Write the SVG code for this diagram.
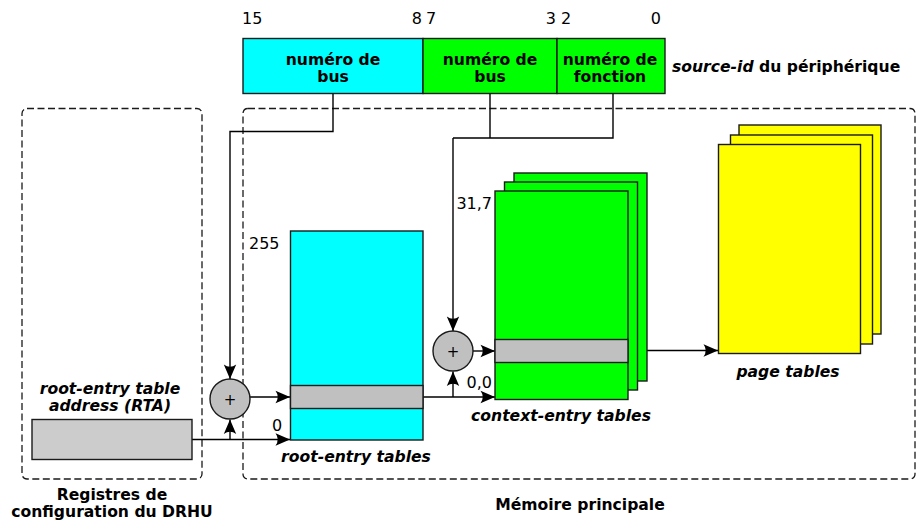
<svg xmlns="http://www.w3.org/2000/svg" width="916" height="520" viewBox="0 0 916 520">
  <style>
    text { font-family: "DejaVu Sans", "Liberation Sans", sans-serif; fill: #000; }
    .num { font-size: 16px; }
    .lbl { font-size: 15.6px; font-weight: bold; }
    .it { font-style: italic; }
    .mid { text-anchor: middle; }
    .end { text-anchor: end; }
    .box { stroke: #1a1a1a; stroke-width: 1.4; }
    .dash { fill: none; stroke: #1a1a1a; stroke-width: 1.3; stroke-dasharray: 7 3.5; }
    .wire { fill: none; stroke: #000; stroke-width: 1.4; }
    .arrow { marker-end: url(#head); }
    .cyan { fill: #00ffff; }
    .green { fill: #00ff00; }
    .yellow { fill: #ffff00; }
    .grey { fill: #c0c0c0; }
    .light { fill: #cccccc; }
    .plus { font-size: 15px; text-anchor: middle; }
  </style>
  <defs>
    <marker id="head" markerUnits="userSpaceOnUse" markerWidth="18" markerHeight="14" refX="15" refY="7" orient="auto" overflow="visible">
      <path d="M15,7 L0.5,0.8 Q5,7 0.5,13.2 Z" fill="#000"/>
    </marker>
  </defs>

  <!-- dashed enclosures -->
  <g id="drhu-registers">
    <rect class="dash" x="22" y="108.5" width="180" height="370.5" rx="5"/>
    <text class="lbl mid" x="112" y="500">Registres de</text>
    <text class="lbl mid" x="112" y="516.5">configuration du DRHU</text>
  </g>
  <g id="main-memory">
    <rect class="dash" x="243" y="108.5" width="672" height="370.5" rx="5"/>
    <text class="lbl mid" x="580" y="510">Mémoire principale</text>
  </g>

  <!-- source-id bit fields -->
  <g id="source-id">
    <rect class="box cyan" x="243" y="38.5" width="180" height="55"/>
    <rect class="box green" x="423" y="38.5" width="134" height="55"/>
    <rect class="box green" x="557" y="38.5" width="108" height="55"/>
    <text class="lbl mid" x="333" y="65">numéro de</text>
    <text class="lbl mid" x="333" y="81.5">bus</text>
    <text class="lbl mid" x="490" y="65">numéro de</text>
    <text class="lbl mid" x="490" y="81.5">bus</text>
    <text class="lbl mid" x="610" y="65">numéro de</text>
    <text class="lbl mid" x="610" y="81.5">fonction</text>
    <text class="num" x="242" y="24">15</text>
    <text class="num end" x="422" y="24">8</text>
    <text class="num" x="426" y="24">7</text>
    <text class="num end" x="556" y="24">3</text>
    <text class="num" x="561" y="24">2</text>
    <text class="num end" x="661" y="24">0</text>
    <text class="lbl" x="672" y="71.5"><tspan class="it">source-id</tspan> du périphérique</text>
  </g>

  <!-- connectors -->
  <g id="connectors">
    <path class="wire arrow" d="M333,93.5 V131.5 H230 V379"/>
    <path class="wire" d="M490,93.5 V138 M613,93.5 V138 H453"/>
    <path class="wire arrow" d="M453,138 V331"/>
    <path class="wire arrow" d="M192,439.5 H290"/>
    <path class="wire arrow" d="M230,439.5 V419.5"/>
    <path class="wire arrow" d="M250,397 H290"/>
    <path class="wire arrow" d="M423,397 H495"/>
    <path class="wire arrow" d="M453,397 V371.5"/>
    <path class="wire arrow" d="M473,351 H495"/>
    <path class="wire arrow" d="M628,350.5 H718"/>
  </g>

  <!-- RTA register -->
  <g id="rta">
    <rect class="box light" x="32" y="419.5" width="160" height="40"/>
    <text class="lbl it mid" x="110" y="394">root-entry table</text>
    <text class="lbl it mid" x="110" y="410.5">address (RTA)</text>
  </g>

  <!-- adders -->
  <g id="adder-root">
    <circle class="box grey" cx="230" cy="399" r="20"/>
    <text class="plus" x="230" y="404.5">+</text>
  </g>
  <g id="adder-context">
    <circle class="box grey" cx="453" cy="351" r="20"/>
    <text class="plus" x="453" y="356.5">+</text>
  </g>

  <!-- root-entry table -->
  <g id="root-entry-table">
    <rect class="box cyan" x="290.5" y="231" width="132.5" height="209"/>
    <rect class="box grey" x="290.5" y="385.5" width="132.5" height="23"/>
    <text class="num" x="249" y="249">255</text>
    <text class="num" x="272" y="431">0</text>
    <text class="lbl it mid" x="356" y="462">root-entry tables</text>
  </g>

  <!-- context-entry tables -->
  <g id="context-entry-tables">
    <rect class="box green" x="514" y="173" width="133" height="208"/>
    <rect class="box green" x="504.5" y="182" width="133" height="208"/>
    <rect class="box green" x="495" y="191" width="133" height="208.5"/>
    <rect class="box grey" x="495" y="339.5" width="133" height="23"/>
    <text class="num end" x="492" y="209">31,7</text>
    <text class="num end" x="492" y="388">0,0</text>
    <text class="lbl it mid" x="561" y="421">context-entry tables</text>
  </g>

  <!-- page tables -->
  <g id="page-tables">
    <rect class="box yellow" x="739" y="125" width="142" height="209"/>
    <rect class="box yellow" x="730.5" y="135" width="142" height="209"/>
    <rect class="box yellow" x="718.5" y="144.5" width="142" height="209"/>
    <text class="lbl it mid" x="788" y="376.5">page tables</text>
  </g>
</svg>
